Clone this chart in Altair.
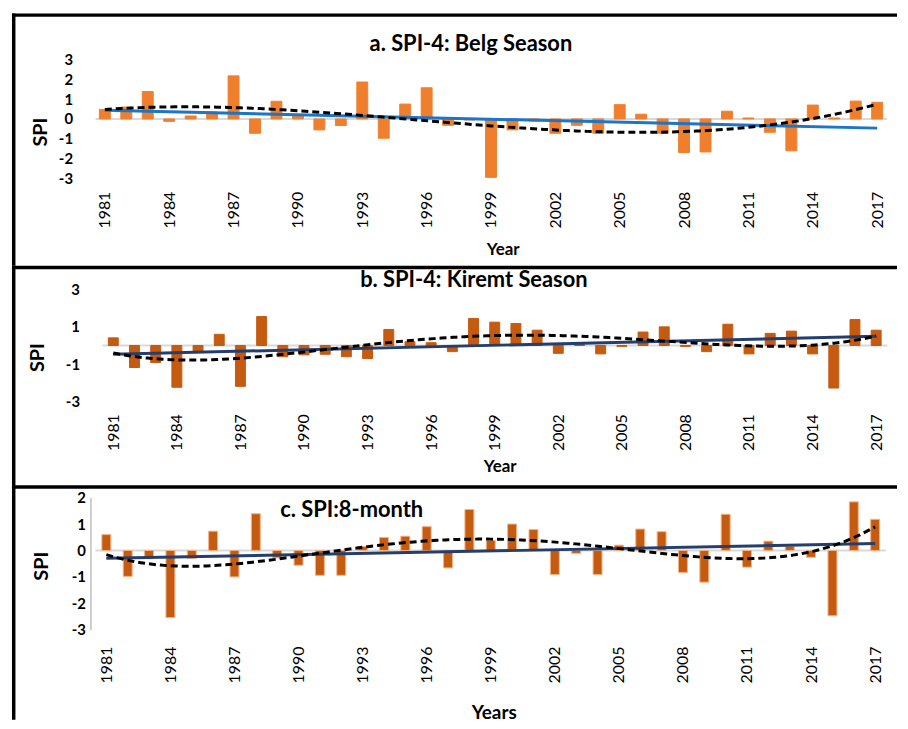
import altair as alt
import pandas as pd

FONT = "Lato"

years = list(range(1981, 2018))
tick_years = list(range(1981, 2018, 3))

belg = [0.48, 0.6, 1.38, -0.12, 0.15, 0.35, 2.17, -0.72, 0.89, 0.2, -0.55, -0.33,
        1.86, -0.97, 0.75, 1.57, -0.32, -0.05, -2.94, -0.55, -0.1, -0.72, -0.32,
        -0.72, 0.72, 0.24, -0.72, -1.69, -1.66, 0.39, 0.05, -0.67, -1.6, 0.7, 0.05,
        0.9, 0.84]
kiremt = [0.41, -1.18, -0.91, -2.24, -0.3, 0.6, -2.19, 1.55, -0.6, -0.5, -0.47, -0.6,
          -0.7, 0.86, 0.2, 0.15, -0.33, 1.45, 1.25, 1.18, 0.82, -0.42, 0.05, -0.45,
          -0.05, 0.72, 1.0, -0.05, -0.33, 1.14, -0.45, 0.65, 0.77, -0.45, -2.28,
          1.39, 0.82]
spi8 = [0.6, -0.98, -0.31, -2.54, -0.3, 0.73, -1.0, 1.39, -0.28, -0.56, -0.94, -0.94,
        0.15, 0.49, 0.54, 0.9, -0.66, 1.55, 0.38, 1.0, 0.79, -0.91, -0.11, -0.91,
        0.2, 0.81, 0.71, -0.83, -1.2, 1.37, -0.63, 0.35, 0.16, -0.26, -2.47, 1.84,
        1.18]

titles = ["a. SPI-4: Belg Season", "b. SPI-4: Kiremt Season", "c. SPI:8-month"]
x_titles = ["Year", "Year", "Years"]
y_title = "SPI"

W = 891
B = 1.75  # half of the frame stroke

cfgs = [
    dict(vals=belg, H=254, x0=88.5, x1=876, ydom=[-3, 3], yb=166.3, yt=46.3,
         yvals=[-3, -2, -1, 0, 1, 2, 3], ydomain=False, yoff=-63, ylp=2,
         ytx=-34, yty=119, xoff=-78, xtx=494, xty=62, xtsize=17,
         bar="#F07F2D", size=11, stroke="#F07F2D", lin="#1B75C9", order=3,
         z0=1980.57, z1=2017.46, tx=462, ty=31),
    dict(vals=kiremt, H=221, x0=97, x1=875, ydom=[-3, 3], yb=136.7, yt=24,
         yvals=[-3, -1, 1, 3], ydomain=False, yoff=-70, ylp=2,
         ytx=-44, yty=92, xoff=-75, xtx=491, xty=56, xtsize=17,
         bar="#C55A11", size=10, stroke="#C55A11", lin="#243F6E", order=4,
         z0=1980.49, z1=2017.53, tx=465, ty=14),
    dict(vals=spi8, H=236, x0=90, x1=874, ydom=[-3, 2], yb=145.5, yt=12.5,
         yvals=[-3, -2, -1, 0, 1, 2], ydomain=True, yoff=-79, ylp=5,
         ytx=-49, yty=81, xoff=-77, xtx=485, xty=70, xtsize=19,
         bar="#C55A11", size=9, stroke="#F4B183", lin="#243F6E", order=4,
         z0=1980.49, z1=2017.5, tx=342, ty=25),
]


def panel(i, c):
    df = pd.DataFrame({"year": years, "spi": c["vals"]})
    xs = alt.Scale(domain=[1981, 2017], range=[c["x0"], c["x1"]], nice=False, zero=False)
    ys = alt.Scale(domain=c["ydom"], range=[c["yb"], c["yt"]], nice=False, zero=False)
    xaxis = alt.Axis(values=tick_years, labelAngle=-90, labelFont=FONT, labelFontSize=16,
                     labelColor="black", labelPadding=3, ticks=False, domain=False,
                     grid=False, offset=c["xoff"], title=x_titles[i], titleFont=FONT,
                     titleFontSize=c["xtsize"], titleFontWeight="bold", titleColor="black",
                     titleX=c["xtx"], titleY=c["xty"], titleAlign="center",
                     titleBaseline="middle", labelOverlap=False, labelFlush=False,
                     labelExpr="'' + datum.value")
    yaxis = alt.Axis(values=c["yvals"], ticks=False, domain=c["ydomain"],
                     domainColor="#BFBFBF", domainWidth=1.5, grid=False,
                     offset=c["yoff"], labelPadding=c["ylp"], labelFont=FONT,
                     labelFontSize=15, labelFontWeight="bold", labelColor="black",
                     title=y_title, titleFont=FONT, titleFontSize=20,
                     titleFontWeight="bold", titleColor="black", titleAngle=-90,
                     titleX=c["ytx"], titleY=c["yty"], titleAlign="center",
                     titleBaseline="middle", labelExpr="'' + datum.value")
    base = alt.Chart(df)
    zero = alt.Chart(pd.DataFrame({"year": [c["z0"]], "year2": [c["z1"]], "spi": [0]})).mark_rule(
        color="#D9D9D9", strokeWidth=2).encode(
        x=alt.X("year:Q", scale=xs), x2="year2:Q", y=alt.Y("spi:Q", scale=ys))
    bars = base.mark_bar(orient="vertical", size=c["size"], color=c["bar"],
                         stroke=c["stroke"], strokeWidth=1).encode(
        x=alt.X("year:Q", scale=xs, axis=xaxis),
        y=alt.Y("spi:Q", scale=ys, axis=yaxis))
    lin = base.transform_regression("year", "spi", method="linear").mark_line(
        color=c["lin"], strokeWidth=3).encode(x="year:Q", y="spi:Q")
    poly = base.transform_regression("year", "spi", method="poly", order=c["order"]).mark_line(
        color="black", strokeWidth=3, strokeDash=[7, 4]).encode(x="year:Q", y="spi:Q")
    ttl = alt.Chart(pd.DataFrame({"t": [titles[i]]})).mark_text(
        font=FONT, fontSize=22, fontWeight="bold", align="center", baseline="middle",
        color="black").encode(x=alt.value(c["tx"]), y=alt.value(c["ty"]), text="t:N")
    one = pd.DataFrame({"k": [0]})
    left = alt.Chart(one).mark_rule(color="black", strokeWidth=3.5).encode(
        x=alt.value(B), y=alt.value(0), y2=alt.value(c["H"]))
    top = alt.Chart(one).mark_rule(color="black", strokeWidth=3.5).encode(
        x=alt.value(0), x2=alt.value(W), y=alt.value(B))
    return alt.layer(zero, bars, lin, poly, ttl, left, top).properties(width=W, height=c["H"])


chart = alt.vconcat(*[panel(i, c) for i, c in enumerate(cfgs)], spacing=0, bounds="flush").properties(
    padding={"left": 1, "top": 0, "right": 0, "bottom": 0}
).configure_view(stroke="transparent")

chart.save("out.html", embed_options={"renderer": "svg", "actions": False})
